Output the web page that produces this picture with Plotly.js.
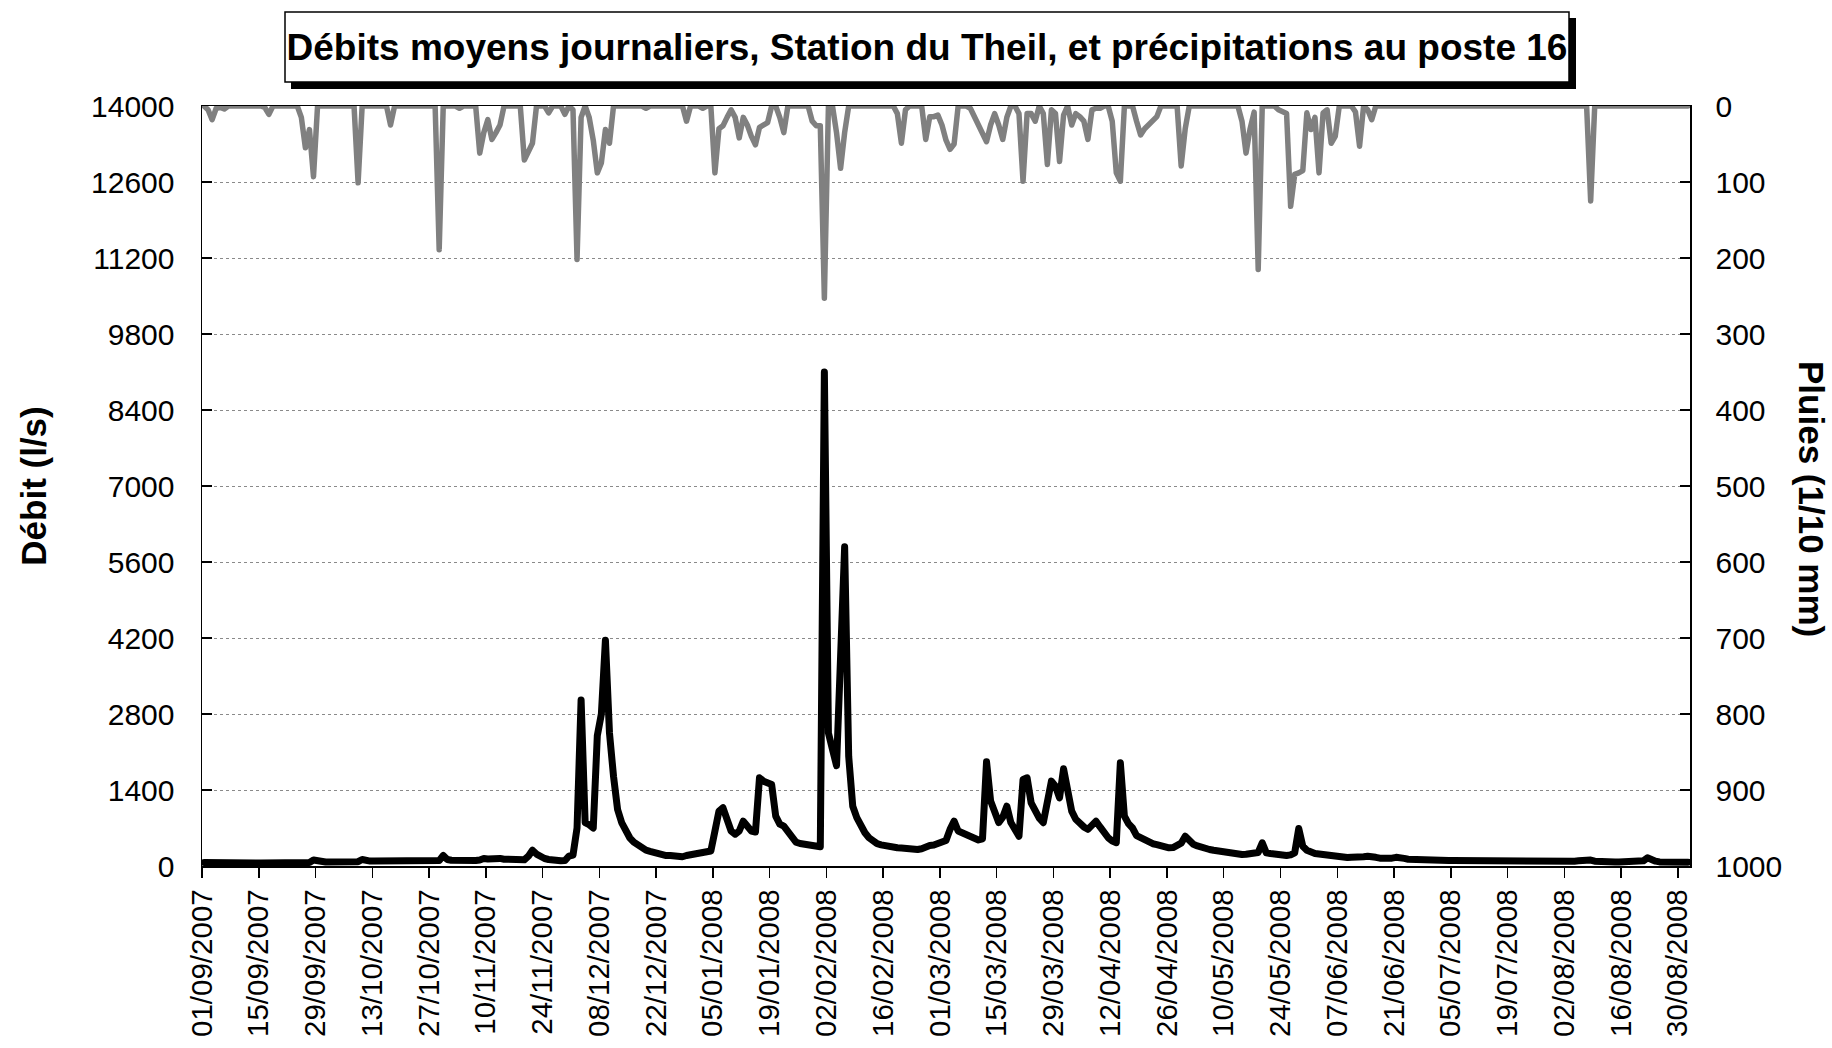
<!DOCTYPE html>
<html>
<head>
<meta charset="utf-8">
<script src="https://cdn.plot.ly/plotly-3.0.1.min.js"></script>
<style>
  html, body { margin: 0; padding: 0; background: #fff; }
  #chart { width: 1832px; height: 1048px; }
  .js-line { stroke-linejoin: round !important; stroke-linecap: round !important; }
</style>
</head>
<body>
<div id="chart"></div>
<script>
// Première journée de la série (une valeur par jour)
const startDate = '2007-09-01';

// Débits moyens journaliers (l/s), du 01/09/2007 au 01/09/2008
const debit = [
  65,62,60,60,60,58,58,58,58,57,
  57,57,56,56,56,55,55,55,55,55,
  55,55,55,56,58,60,65,110,90,78,
  75,75,75,75,75,75,75,76,80,120,
  95,90,90,90,90,90,90,90,90,90,
  90,90,90,90,90,92,92,95,100,193,
  120,105,100,100,100,100,100,100,110,138,
  130,140,150,140,125,122,120,120,125,115,
  180,290,220,165,138,120,105,100,95,100,
  180,200,700,3060,800,760,700,2400,2800,4160,
  2450,1650,1040,800,645,520,440,380,330,291,
  270,245,230,212,193,193,180,180,170,193,
  212,225,230,245,262,276,640,1010,1072,800,
  645,585,645,826,733,645,626,1624,1563,1545,
  1500,918,770,733,645,520,440,415,400,378,
  365,356,356,9100,2450,2150,1850,3850,5880,2020,
  1100,890,733,612,520,460,411,390,370,356,
  335,335,330,318,310,304,304,318,356,378,
  385,415,460,470,675,826,645,614,580,540,
  488,480,500,1920,1200,950,800,900,1102,800,
  700,549,1593,1624,1163,1000,880,798,1180,1563,
  1470,1255,1790,1400,1010,860,770,720,675,740,
  826,720,614,520,460,430,1900,918,780,700,
  560,520,470,450,410,395,370,350,335,340,
  365,420,549,470,400,370,340,320,304,290,
  275,260,243,235,225,218,212,215,225,212,
  250,427,243,230,215,200,193,195,205,243,
  690,365,290,243,230,220,212,185,170,165,
  160,158,155,163,155,160,170,178,180,160,
  145,138,130,145,160,163,140,125,120,115,
  110,108,106,104,103,102,101,101,101,100,
  98,96,94,92,90,89,89,88,86,84,
  80,78,76,74,71,71,71,71,71,71,
  71,71,71,71,72,75,80,85,89,95,
  105,132,110,89,80,75,72,72,72,72,
  75,75,78,80,85,95,150,110,89,75,
  72,71,71,71,71,71,71
];

// Précipitations journalières au poste 16 (1/10 mm)
const pluie = [
  0,5,18,3,2,4,0,0,0,0,
  0,0,0,0,0,2,11,0,0,0,
  0,0,0,0,15,55,31,93,0,0,
  0,0,0,0,0,0,0,0,101,0,
  0,0,0,0,0,0,25,0,0,0,
  0,0,0,0,0,0,0,0,189,0,
  0,0,0,3,0,0,0,0,62,35,
  18,44,35,25,0,0,0,0,0,71,
  60,49,0,0,0,9,0,0,0,11,
  0,5,202,15,0,15,45,88,75,31,
  49,0,0,0,0,0,0,0,0,3,
  0,0,0,0,0,0,0,0,0,20,
  0,0,0,3,0,0,88,30,26,15,
  5,15,42,15,25,40,51,28,25,22,
  0,0,15,35,0,0,0,0,0,0,
  20,26,26,253,0,0,35,82,35,0,
  0,0,0,0,0,0,0,0,0,0,
  0,10,49,5,0,0,0,0,44,14,
  14,12,25,45,57,50,0,0,0,3,
  15,25,35,47,25,10,25,44,15,0,
  0,10,99,10,10,20,0,10,77,5,
  10,73,12,0,25,10,14,20,44,5,
  3,3,0,0,20,88,99,0,0,0,
  20,38,30,25,20,14,0,0,0,0,
  0,79,30,0,0,0,0,0,0,0,
  0,0,0,0,0,0,20,62,30,8,
  215,0,0,0,0,5,8,10,132,90,
  88,85,9,31,15,88,9,5,49,40,
  0,0,0,0,8,53,0,5,18,0,
  0,0,0,0,0,0,0,0,0,0,
  0,0,0,0,0,0,0,0,0,0,
  0,0,0,0,0,0,0,0,0,0,
  0,0,0,0,0,0,0,0,0,0,
  0,0,0,0,0,0,0,0,0,0,
  0,0,125,0,0,0,0,0,0,0,
  0,0,0,0,0,0,0,0,0,0,
  0,0,0,0,0,0,0
];

// Étiquettes de l'axe des dates
const tickLabels = [
  '01/09/2007','15/09/2007','29/09/2007','13/10/2007','27/10/2007','10/11/2007',
  '24/11/2007','08/12/2007','22/12/2007','05/01/2008','19/01/2008','02/02/2008',
  '16/02/2008','01/03/2008','15/03/2008','29/03/2008','12/04/2008','26/04/2008',
  '10/05/2008','24/05/2008','07/06/2008','21/06/2008','05/07/2008','19/07/2008',
  '02/08/2008','16/08/2008','30/08/2008'
];

const leftTicks = [0,1400,2800,4200,5600,7000,8400,9800,11200,12600,14000];
const rightTicks = [0,100,200,300,400,500,600,700,800,900,1000];

// Dates of each daily value (one category per day, drawn mid-day)
function pad(n) { return (n < 10 ? '0' : '') + n; }
const t0 = new Date(startDate + 'T00:00:00Z');
const dates = debit.map(function (_, i) {
  const d = new Date(t0.getTime() + i * 86400000);
  return d.getUTCFullYear() + '-' + pad(d.getUTCMonth() + 1) + '-' + pad(d.getUTCDate()) + ' 12:00';
});
const tickVals = tickLabels.map(function (s) {
  const p = s.split('/');
  return p[2] + '-' + p[1] + '-' + p[0];
});

const FONT = 'Arial, "Liberation Sans", sans-serif';

const traces = [
  {
    x: dates, y: debit, type: 'scatter', mode: 'lines', name: 'Débit',
    line: { color: '#000000', width: 7 }, yaxis: 'y', hoverinfo: 'skip'
  },
  {
    x: dates, y: pluie, type: 'scatter', mode: 'lines', name: 'Pluies',
    line: { color: '#808080', width: 5.5 }, yaxis: 'y2', hoverinfo: 'skip'
  }
];

// plot area in pixels: x 202..1690, y 106..866
function px(x) { return (x - 202) / 1488; }
function py(y) { return (866 - y) / 760; }

const layout = {
  width: 1832, height: 1048,
  margin: { l: 202, r: 142, t: 106, b: 182, pad: 0 },
  paper_bgcolor: '#ffffff', plot_bgcolor: '#ffffff',
  showlegend: false,
  font: { family: FONT, size: 30, color: '#000000' },
  title: {
    text: 'Débits moyens journaliers, Station du Theil, et précipitations au poste 16',
    font: { family: FONT, size: 37, weight: 'bold', color: '#000000' },
    xref: 'container', yref: 'container',
    x: 927 / 1832, y: 1 - 47 / 1048, xanchor: 'center', yanchor: 'middle'
  },
  xaxis: {
    type: 'date',
    range: ['2007-09-01', '2008-09-02'],
    tickmode: 'array', tickvals: tickVals, ticktext: tickLabels,
    tickangle: -90,
    ticks: 'outside', ticklen: 10, tickwidth: 1.5, tickcolor: '#000000',
    showline: true, linecolor: '#000000', linewidth: 1.5, mirror: true,
    showgrid: false, zeroline: false,
    ticklabelstandoff: 0,
    tickfont: { family: FONT, size: 29.5, color: '#000000' }
  },
  yaxis: {
    range: [0, 14000],
    tickmode: 'array', tickvals: leftTicks, ticktext: leftTicks.map(String),
    ticks: 'inside', ticklen: 10, tickwidth: 1.5, tickcolor: '#000000',
    showline: true, linecolor: '#000000', linewidth: 1.5,
    showgrid: true, gridcolor: '#8a8a8a', griddash: 'dot', gridwidth: 1,
    zeroline: false,
    ticklabelstandoff: 20,
    tickfont: { family: FONT, size: 30, color: '#000000' },
    title: {
      text: 'Débit (l/s)',
      font: { family: FONT, size: 35, weight: 'bold', color: '#000000' },
      standoff: 34
    }
  },
  yaxis2: {
    overlaying: 'y', side: 'right',
    range: [1000, 0],
    tickmode: 'array', tickvals: rightTicks, ticktext: rightTicks.map(String),
    ticks: 'inside', ticklen: 10, tickwidth: 1.5, tickcolor: '#000000',
    showline: true, linecolor: '#000000', linewidth: 1.5,
    showgrid: false, zeroline: false,
    ticklabelstandoff: 18,
    tickfont: { family: FONT, size: 30, color: '#000000' }
  },
  shapes: [
    { type: 'rect', xref: 'paper', yref: 'paper', layer: 'below',
      x0: px(291), x1: px(1576), y0: py(89), y1: py(18),
      fillcolor: '#000000', line: { width: 0 } },
    { type: 'rect', xref: 'paper', yref: 'paper', layer: 'below',
      x0: px(285), x1: px(1569), y0: py(82), y1: py(12),
      fillcolor: '#ffffff', line: { color: '#000000', width: 1.5 } }
  ],
  annotations: [
    { text: 'Pluies (1/10 mm)', textangle: 90, showarrow: false,
      xref: 'paper', yref: 'paper', x: px(1812), y: py(499),
      xanchor: 'center', yanchor: 'middle',
      font: { family: FONT, size: 35, weight: 'bold', color: '#000000' } }
  ]
};

Plotly.newPlot('chart', traces, layout, { staticPlot: true, displayModeBar: false });
</script>
</body>
</html>
